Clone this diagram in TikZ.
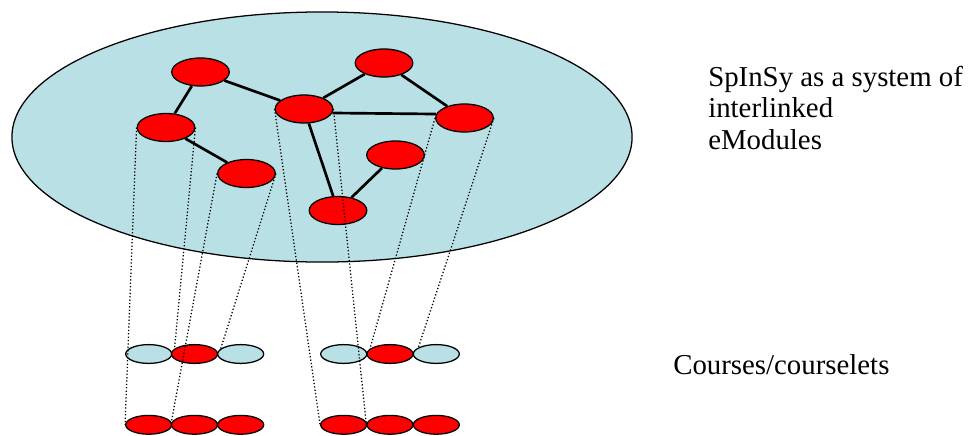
\documentclass[tikz,border=0pt]{standalone}
\usepackage{fontspec}
\setmainfont{Liberation Serif}
\usepackage{xcolor}
\usetikzlibrary{shapes.geometric}

\definecolor{sysblue}{RGB}{185,224,228}

\tikzset{
  module/.style={ellipse,draw=black,line width=0.9pt,fill=red,inner sep=0pt,
    minimum width=1.44cm,minimum height=0.7cm},
  unit/.style={ellipse,draw=black,line width=0.9pt,inner sep=0pt,
    minimum width=1.15cm,minimum height=0.47cm},
  link/.style={line width=1.9pt},
  proj/.style={line width=0.9pt,dash pattern=on 0.9pt off 1.5pt},
  label/.style={inner sep=0pt,anchor=north west,align=left,
    font=\fontsize{20.5}{22.3}\selectfont}
}

\begin{document}
\begin{tikzpicture}[x=0.025cm,y=-0.025cm]
		\useasboundingbox (0,0) rectangle (971,435);
		% the system as a whole
		\node[ellipse,draw=black,line width=0.9pt,fill=sysblue,inner sep=0pt,
		  minimum width=15.5cm,minimum height=6.25cm] (spinsy) at (322,137) {};
		% eModules
		\node[module] (mA) at (200.5,72) {};
		\node[module] (mB) at (166,127.5) {};
		\node[module] (mC) at (246.5,173.5) {};
		\node[module] (mD) at (304,109) {};
		\node[module] (mE) at (384,63) {};
		\node[module] (mF) at (464.5,118) {};
		\node[module] (mG) at (395.5,155) {};
		\node[module] (mH) at (338,210.5) {};
		\draw[link] (mA) -- (mB);
		\draw[link] (mA) -- (mD);
		\draw[link] (mB) -- (mC);
		\draw[link] (mD) -- (mE);
		\draw[link] (mE) -- (mF);
		\draw[link] (mD.352) -- (mF.172);
		\draw[link] (mD) -- (mH);
		\draw[link] (mG) -- (mH);
		% courses (upper row) and courselets (lower row)
		\node[unit,fill=sysblue] (crs1) at (148.7,354) {};
		\node[unit,fill=red] (crs2) at (194.5,354) {};
		\node[unit,fill=sysblue] (crs3) at (240.7,354) {};
		\node[unit,fill=sysblue] (crs4) at (343.7,354) {};
		\node[unit,fill=red] (crs5) at (390,354) {};
		\node[unit,fill=sysblue] (crs6) at (436.3,354) {};
		\node[unit,fill=red] (let1) at (148.7,424.8) {};
		\node[unit,fill=red] (let2) at (194.5,424.8) {};
		\node[unit,fill=red] (let3) at (240.7,424.8) {};
		\node[unit,fill=red] (let4) at (343.7,424.8) {};
		\node[unit,fill=red] (let5) at (390,424.8) {};
		\node[unit,fill=red] (let6) at (436.3,424.8) {};
		% projections
		\draw[proj] (mB.west) -- (let1.west);
		\draw[proj] (mB.east) -- (crs2.165);
		\draw[proj] (mC.west) -- (let2.west);
		\draw[proj] (mC.east) -- (crs3.165);
		\draw[proj] (mD.west) -- (let4.west);
		\draw[proj] (mD.east) -- (let5.west);
		\draw[proj] (mF.west) -- (crs5.165);
		\draw[proj] (mF.east) -- (crs6.160);
		% captions
		\node[label] (systext) at (708,66) {SpInSy as a system of\\interlinked\\eModules};
		\node[label] (crstext) at (673,354) {Courses/courselets};
	\end{tikzpicture}
\end{document}
